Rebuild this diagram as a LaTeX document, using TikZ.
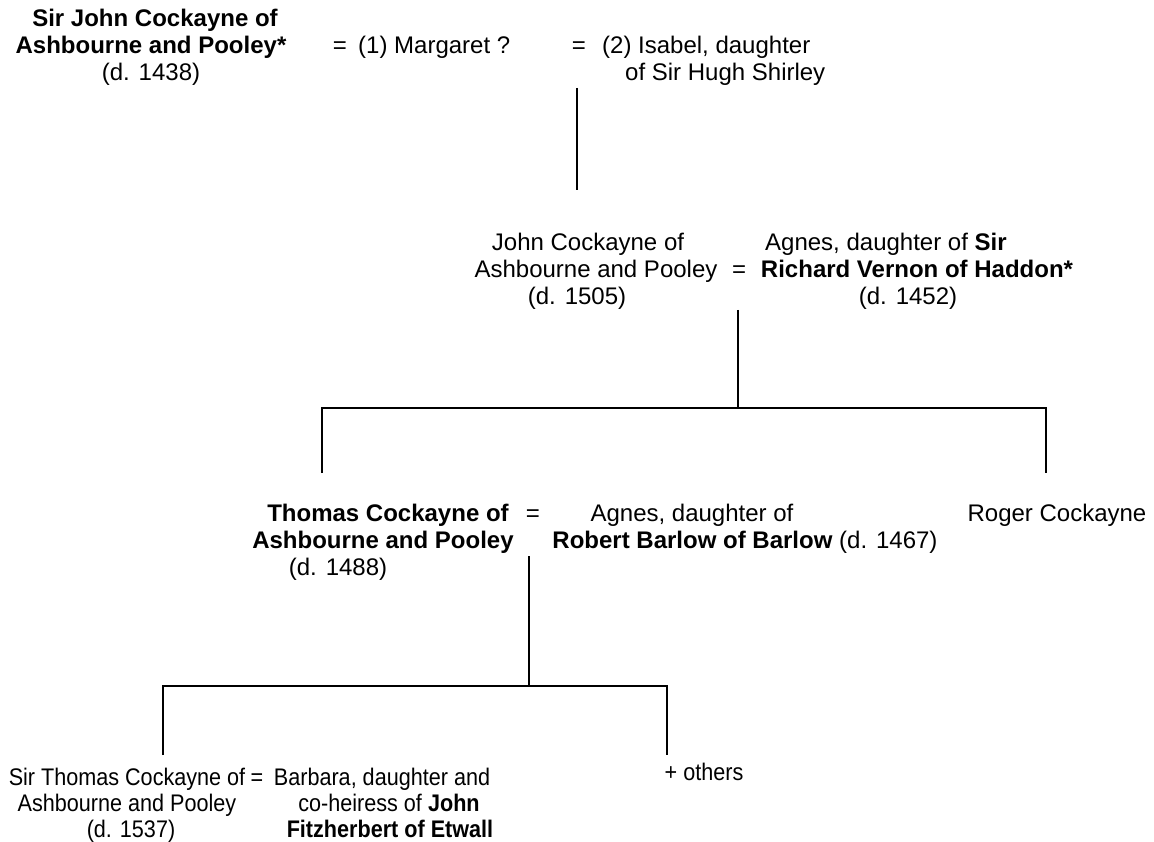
\documentclass[tikz,border=0pt]{standalone}
\usepackage{fontspec}
\setmainfont{Liberation Sans}
\newfontfamily\narrowfam[FakeStretch=0.9]{Liberation Sans}
\begin{document}
\begin{tikzpicture}[x=1pt,y=-1pt,
  txt/.style={inner sep=0pt,anchor=base,font=\fontsize{24}{27}\selectfont},
  txtl/.style={txt,anchor=base west},
  bd/.style={txt,font=\fontsize{24}{27}\selectfont\bfseries},
  nar/.style={txt,font=\fontsize{24}{27}\narrowfam},
  link/.style={line width=1.8pt,line cap=butt}]
\useasboundingbox (0,0) rectangle (1154,842);
% generation 1
\node[bd] (a1) at (155,27) {Sir John Cockayne of};
\node[bd] (a2) at (151,54) {Ashbourne and Pooley*};
\node[txt] (a3) at (151,81) {(d. 1438)};
\node[txt] (eq1) at (340,54) {=};
\node[txtl] (mg) at (358,54) {(1) Margaret ?};
\node[txt] (eq2) at (579,54) {=};
\node[txtl] (is1) at (602,54) {(2) Isabel, daughter};
\node[txtl] (is2) at (625,81) {of Sir Hugh Shirley};
% generation 2
\node[txt] (b1) at (588,251) {John Cockayne of};
\node[txt] (b2) at (596,278) {Ashbourne and Pooley};
\node[txt] (b3) at (577,305) {(d. 1505)};
\node[txt] (eq3) at (739,278) {=};
\node[txtl] (v1) at (765,251) {Agnes, daughter of \textbf{Sir}};
\node[bd] (v2) at (917,278) {Richard Vernon of Haddon*};
\node[txt] (v3) at (908,305) {(d. 1452)};
% generation 3
\node[bd] (c1) at (388,521) {Thomas Cockayne of};
\node[bd] (c2) at (383,548) {Ashbourne and Pooley};
\node[txt] (c3) at (338,575) {(d. 1488)};
\node[txt] (eq4) at (533,521) {=};
\node[txt] (r1) at (692,521) {Agnes, daughter of};
\node[txt] (r2) at (745,548) {\textbf{Robert Barlow of Barlow} (d. 1467)};
\node[txt] (rc) at (1057,521) {Roger Cockayne};
% generation 4
\node[nar] (d1) at (127,785) {Sir Thomas Cockayne of};
\node[nar] (d2) at (127,811) {Ashbourne and Pooley};
\node[nar] (d3) at (131,837) {(d. 1537)};
\node[nar] (eq5) at (257,785) {=};
\node[nar] (f1) at (382,785) {Barbara, daughter and};
\node[nar] (f2) at (389,811) {co-heiress of \textbf{John}};
\node[nar,font=\fontsize{24}{27}\narrowfam\bfseries] (f3) at (390,837) {Fitzherbert of Etwall};
\node[nar] (oth) at (704,780) {+ others};
% connectors
\coordinate (m1) at (577,88);
\coordinate (k1) at (577,190);
\coordinate (m2) at (738,310);
\coordinate (j2) at (738,408);
\coordinate (l2) at (322,408);
\coordinate (r2e) at (1046,408);
\coordinate (l2b) at (322,473);
\coordinate (r2b) at (1046,473);
\coordinate (m3) at (529,556);
\coordinate (j3) at (529,686);
\coordinate (l3) at (163,686);
\coordinate (r3) at (667,686);
\coordinate (l3b) at (163,755);
\coordinate (r3b) at (667,755);
\draw[link] (m1) -- (k1);
\draw[link] (m2) -- (j2);
\draw[link] (l2b) -- (l2) -- (r2e) -- (r2b);
\draw[link] (m3) -- (j3);
\draw[link] (l3b) -- (l3) -- (r3) -- (r3b);
\end{tikzpicture}
\end{document}
